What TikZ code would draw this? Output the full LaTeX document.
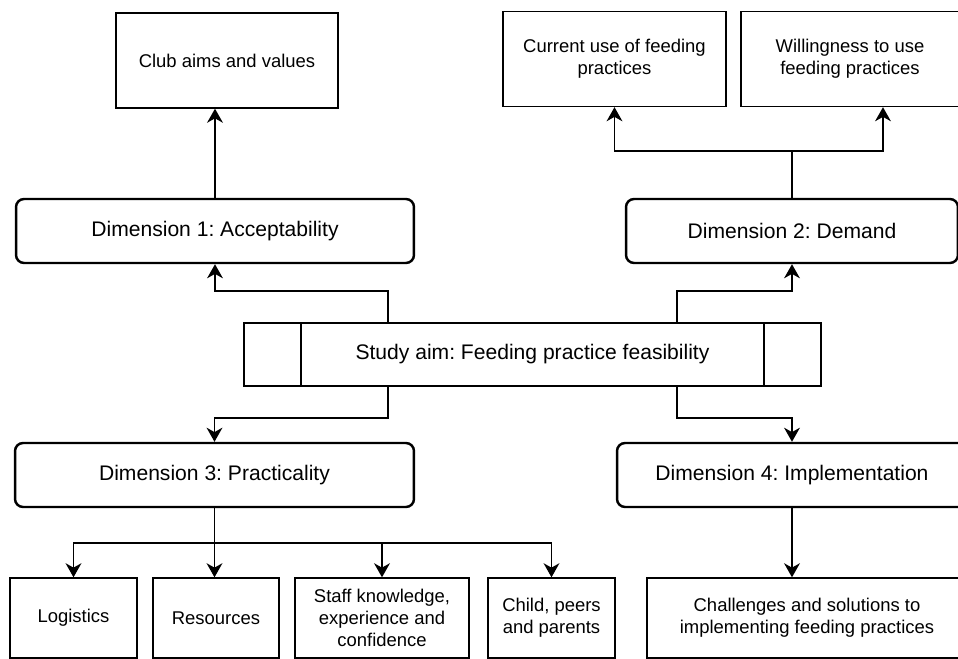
\documentclass[tikz,border=0pt]{standalone}
\usepackage{fontspec}
\setmainfont{Liberation Sans}
\usetikzlibrary{arrows.meta}
\frenchspacing

\begin{document}
\begin{tikzpicture}[x=0.02cm, y=-0.02cm,
  sqbox/.style={draw, line width=0.8pt, inner sep=0pt, minimum height=1.9cm, align=center, font=\fontsize{10.5pt}{12.6pt}\selectfont},
  dimbox/.style={draw, line width=1.4pt, rounded corners=0.16cm, inner sep=0pt, minimum height=1.28cm, font=\fontsize{12pt}{14.4pt}\selectfont},
  conn/.style={line width=0.9pt, -{Stealth[length=8pt, width=9pt, inset=2.5pt]}}]
  \useasboundingbox (0,0) rectangle (958,659);
  % top row
  \node[sqbox, minimum width=4.44cm] (club) at (227,60.5) {Club aims and values};
  \node[sqbox, minimum width=4.46cm] (current) at (614.5,59) {Current use of feeding\\practices};
  \node[sqbox, minimum width=4.36cm] (willing) at (850,59) {Willingness to use\\feeding practices};
  % dimensions
  \node[dimbox, minimum width=7.96cm] (dim1) at (215,231) {Dimension 1: Acceptability};
  \node[dimbox, minimum width=6.64cm] (dim2) at (792,231) {Dimension 2: Demand};
  \node[dimbox, minimum width=7.98cm] (dim3) at (214.5,475) {Dimension 3: Practicality};
  \node[dimbox, minimum width=7cm] (dim4) at (792,475) {Dimension 4: Implementation};
  % study aim (process box)
  \node[draw, line width=1.1pt, inner sep=0pt, minimum width=11.54cm, minimum height=1.26cm, font=\fontsize{12pt}{14.4pt}\selectfont] (study) at (532.5,354.5) {Study aim: Feeding practice feasibility};
  \draw[line width=1.1pt] ([xshift=1.16cm]study.north west) -- ([xshift=1.16cm]study.south west);
  \draw[line width=1.1pt] ([xshift=-1.16cm]study.north east) -- ([xshift=-1.16cm]study.south east);
  % bottom row
  \node[sqbox, minimum width=2.54cm, minimum height=1.6cm] (logistics) at (73.5,618) {Logistics};
  \node[sqbox, minimum width=2.52cm, minimum height=1.6cm] (resources) at (216,618) {Resources};
  \node[sqbox, minimum width=3.48cm, minimum height=1.6cm] (staff) at (382,618) {Staff knowledge,\\experience and\\confidence};
  \node[sqbox, minimum width=2.54cm, minimum height=1.6cm] (child) at (551.5,618) {Child, peers\\and parents};
  \node[sqbox, minimum width=6.4cm, minimum height=1.6cm] (challenges) at (807,618) {Challenges and solutions to\\implementing feeding practices};
  % connectors
  \draw[conn] (dim1.north) -- (dim1.north |- club.south);
  \coordinate (dsplit) at ([yshift=0.94cm]dim2.north);
  \draw[conn] (dim2.north) -- (dsplit) -| (current.south);
  \draw[conn] (dsplit) -| ([xshift=0.66cm]willing.south);
  \draw[conn] ([xshift=-2.89cm]study.north) -- ++(0,-31) -| (dim1.south);
  \draw[conn] ([xshift=2.89cm]study.north) -- ++(0,-31) -| (dim2.south);
  \draw[conn] ([xshift=-2.89cm]study.south) -- ++(0,31) -| (dim3.north);
  \draw[conn] ([xshift=2.89cm]study.south) -- ++(0,31) -| (dim4.north);
  \coordinate (pbar) at ([yshift=-0.7cm]dim3.south);
  \draw[conn] (dim3.south) -- (dim3.south |- resources.north);
  \draw[conn] (pbar) -| (logistics.north); \draw[conn] (pbar) -| (staff.north); \draw[conn] (pbar) -| (child.north);
  \draw[conn] (dim4.south) -- (dim4.south |- challenges.north);
\end{tikzpicture}
\end{document}
